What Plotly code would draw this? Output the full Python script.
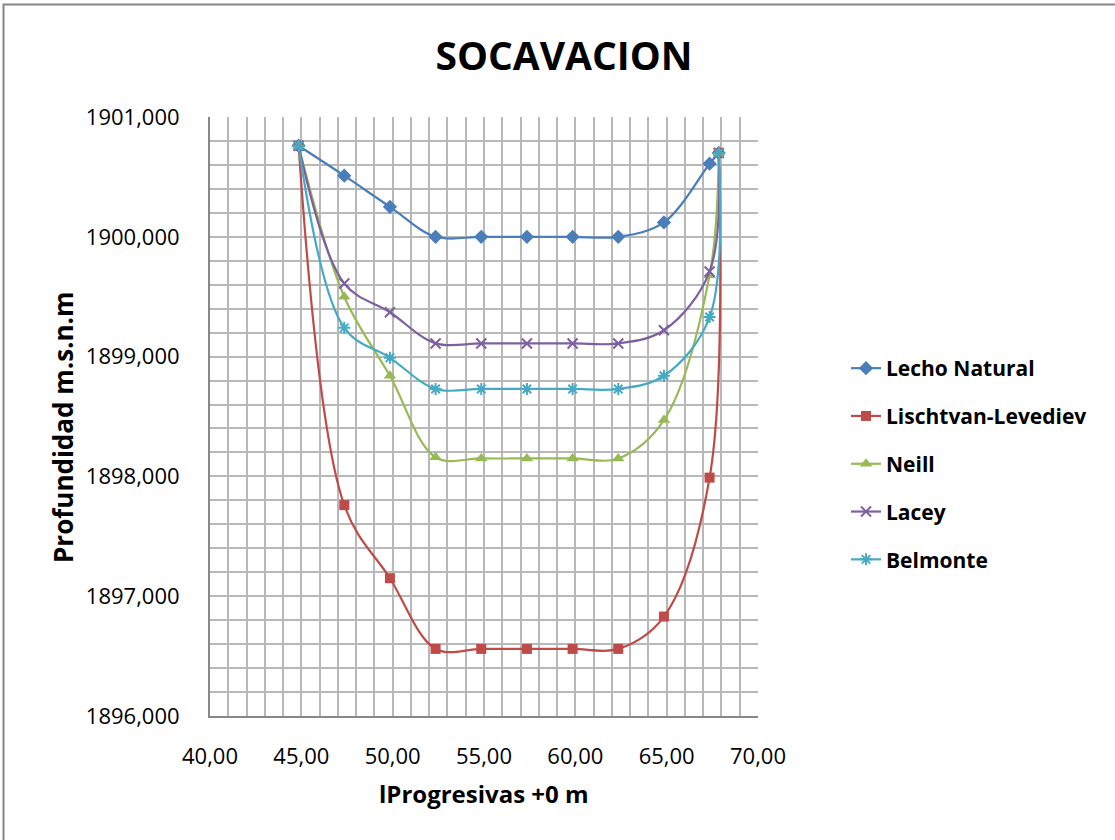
import plotly.graph_objects as go

# Progresivas (m) of the cross-section stations
progresivas = [44.85, 47.35, 49.85, 52.35, 54.85, 57.35, 59.85, 62.35, 64.85, 67.35, 67.85]

# Elevations (m.s.n.m) for the natural bed and each scour method
lecho_natural = [1900.76, 1900.51, 1900.25, 1900.00, 1900.00, 1900.00, 1900.00, 1900.00, 1900.12, 1900.61, 1900.70]
lischtvan_levediev = [1900.76, 1897.76, 1897.15, 1896.56, 1896.56, 1896.56, 1896.56, 1896.56, 1896.83, 1897.99, 1900.70]
neill = [1900.76, 1899.50, 1898.84, 1898.16, 1898.15, 1898.15, 1898.15, 1898.15, 1898.47, 1899.68, 1900.70]
lacey = [1900.76, 1899.61, 1899.37, 1899.11, 1899.11, 1899.11, 1899.11, 1899.11, 1899.22, 1899.71, 1900.70]
belmonte = [1900.76, 1899.24, 1898.99, 1898.73, 1898.73, 1898.73, 1898.73, 1898.73, 1898.84, 1899.33, 1900.70]

series = [
    ("Lecho Natural", lecho_natural, "#4A7EBB", "diamond", 11),
    ("Lischtvan-Levediev", lischtvan_levediev, "#BE4B48", "square", 10),
    ("Neill", neill, "#98B954", "triangle-up", 11),
    ("Lacey", lacey, "#7D60A0", "x-thin-open", 10),
    ("Belmonte", belmonte, "#46AAC5", "asterisk-open", 10),
]

FONT = "Open Sans"
GRID = "#B8B8B8"

fig = go.Figure()
for name, ys, color, symbol, size in series:
    fig.add_trace(go.Scatter(
        x=progresivas, y=ys, name=f"<b>{name}</b>", legendgroup=name,
        mode="lines+markers",
        line=dict(color=color, width=2.2, shape="spline", smoothing=1.0),
        marker=dict(symbol=symbol, size=size, color=color,
                    line=dict(color=color, width=2 if "open" in symbol else 0)),
    ))

W, H = 1115, 840
L, R, T, B = 210, 1115 - 758, 117, 840 - 716
pw, ph = W - L - R, H - T - B

fig.update_layout(
    width=W, height=H,
    margin=dict(l=L, r=R, t=T, b=B),
    paper_bgcolor="white", plot_bgcolor="white",
    separators=",.",
    font=dict(family=FONT, color="#000000"),
    title=dict(text="<b>SOCAVACION</b>", x=564 / W, xref="container",
               y=1 - 56 / H, yanchor="middle", xanchor="center",
               font=dict(family=FONT, size=39, color="#000000")),
    showlegend=True,
    legend=dict(x=(846 - L) / pw, y=1 - (348 - T) / ph, xanchor="left", yanchor="top",
                font=dict(family=FONT, size=21, color="#000000"),
                traceorder="grouped", tracegroupgap=17.5, itemwidth=30,
                bgcolor="rgba(0,0,0,0)"),
    xaxis=dict(
        range=[40, 70], dtick=5, tick0=40, tickformat=".2f",
        showgrid=True, gridcolor=GRID, gridwidth=1.5,
        minor=dict(dtick=1, showgrid=True, gridcolor=GRID, gridwidth=1.5),
        showline=True, linecolor="#888888", linewidth=2,
        ticks="outside", ticklen=20, tickcolor="rgba(0,0,0,0)",
        tickfont=dict(family=FONT, size=22, color="#000000"),
        zeroline=False,
    ),
    yaxis=dict(
        range=[1896, 1901], dtick=1, tick0=1896, tickformat=".3f",
        showgrid=True, gridcolor=GRID, gridwidth=1.5,
        minor=dict(dtick=0.2, showgrid=True, gridcolor=GRID, gridwidth=1.5),
        showline=True, linecolor="#888888", linewidth=2,
        ticks="outside", ticklen=24, tickcolor="rgba(0,0,0,0)",
        tickfont=dict(family=FONT, size=22, color="#000000"),
        zeroline=False,
    ),
    annotations=[
        dict(text="<b>lProgresivas +0 m</b>", xref="paper", yref="paper",
             x=0.5, y=1 - (793 - T) / ph, xanchor="center", yanchor="middle",
             showarrow=False, font=dict(family=FONT, size=24, color="#000000")),
        dict(text="<b>Profundidad m.s.n.m</b>", xref="paper", yref="paper",
             x=(63 - L) / pw, y=1 - (427 - T) / ph, xanchor="center", yanchor="middle",
             textangle=-90, showarrow=False,
             font=dict(family=FONT, size=26, color="#000000")),
    ],
    shapes=[
        dict(type="rect", xref="paper", yref="paper",
             x0=(3.5 - L) / pw, x1=(W + 20 - L) / pw,
             y0=1 - (H + 20 - T) / ph, y1=1 - (4.5 - T) / ph,
             line=dict(color="#868686", width=2), fillcolor="rgba(0,0,0,0)",
             layer="below"),
    ],
)

fig.write_html("out.html")
